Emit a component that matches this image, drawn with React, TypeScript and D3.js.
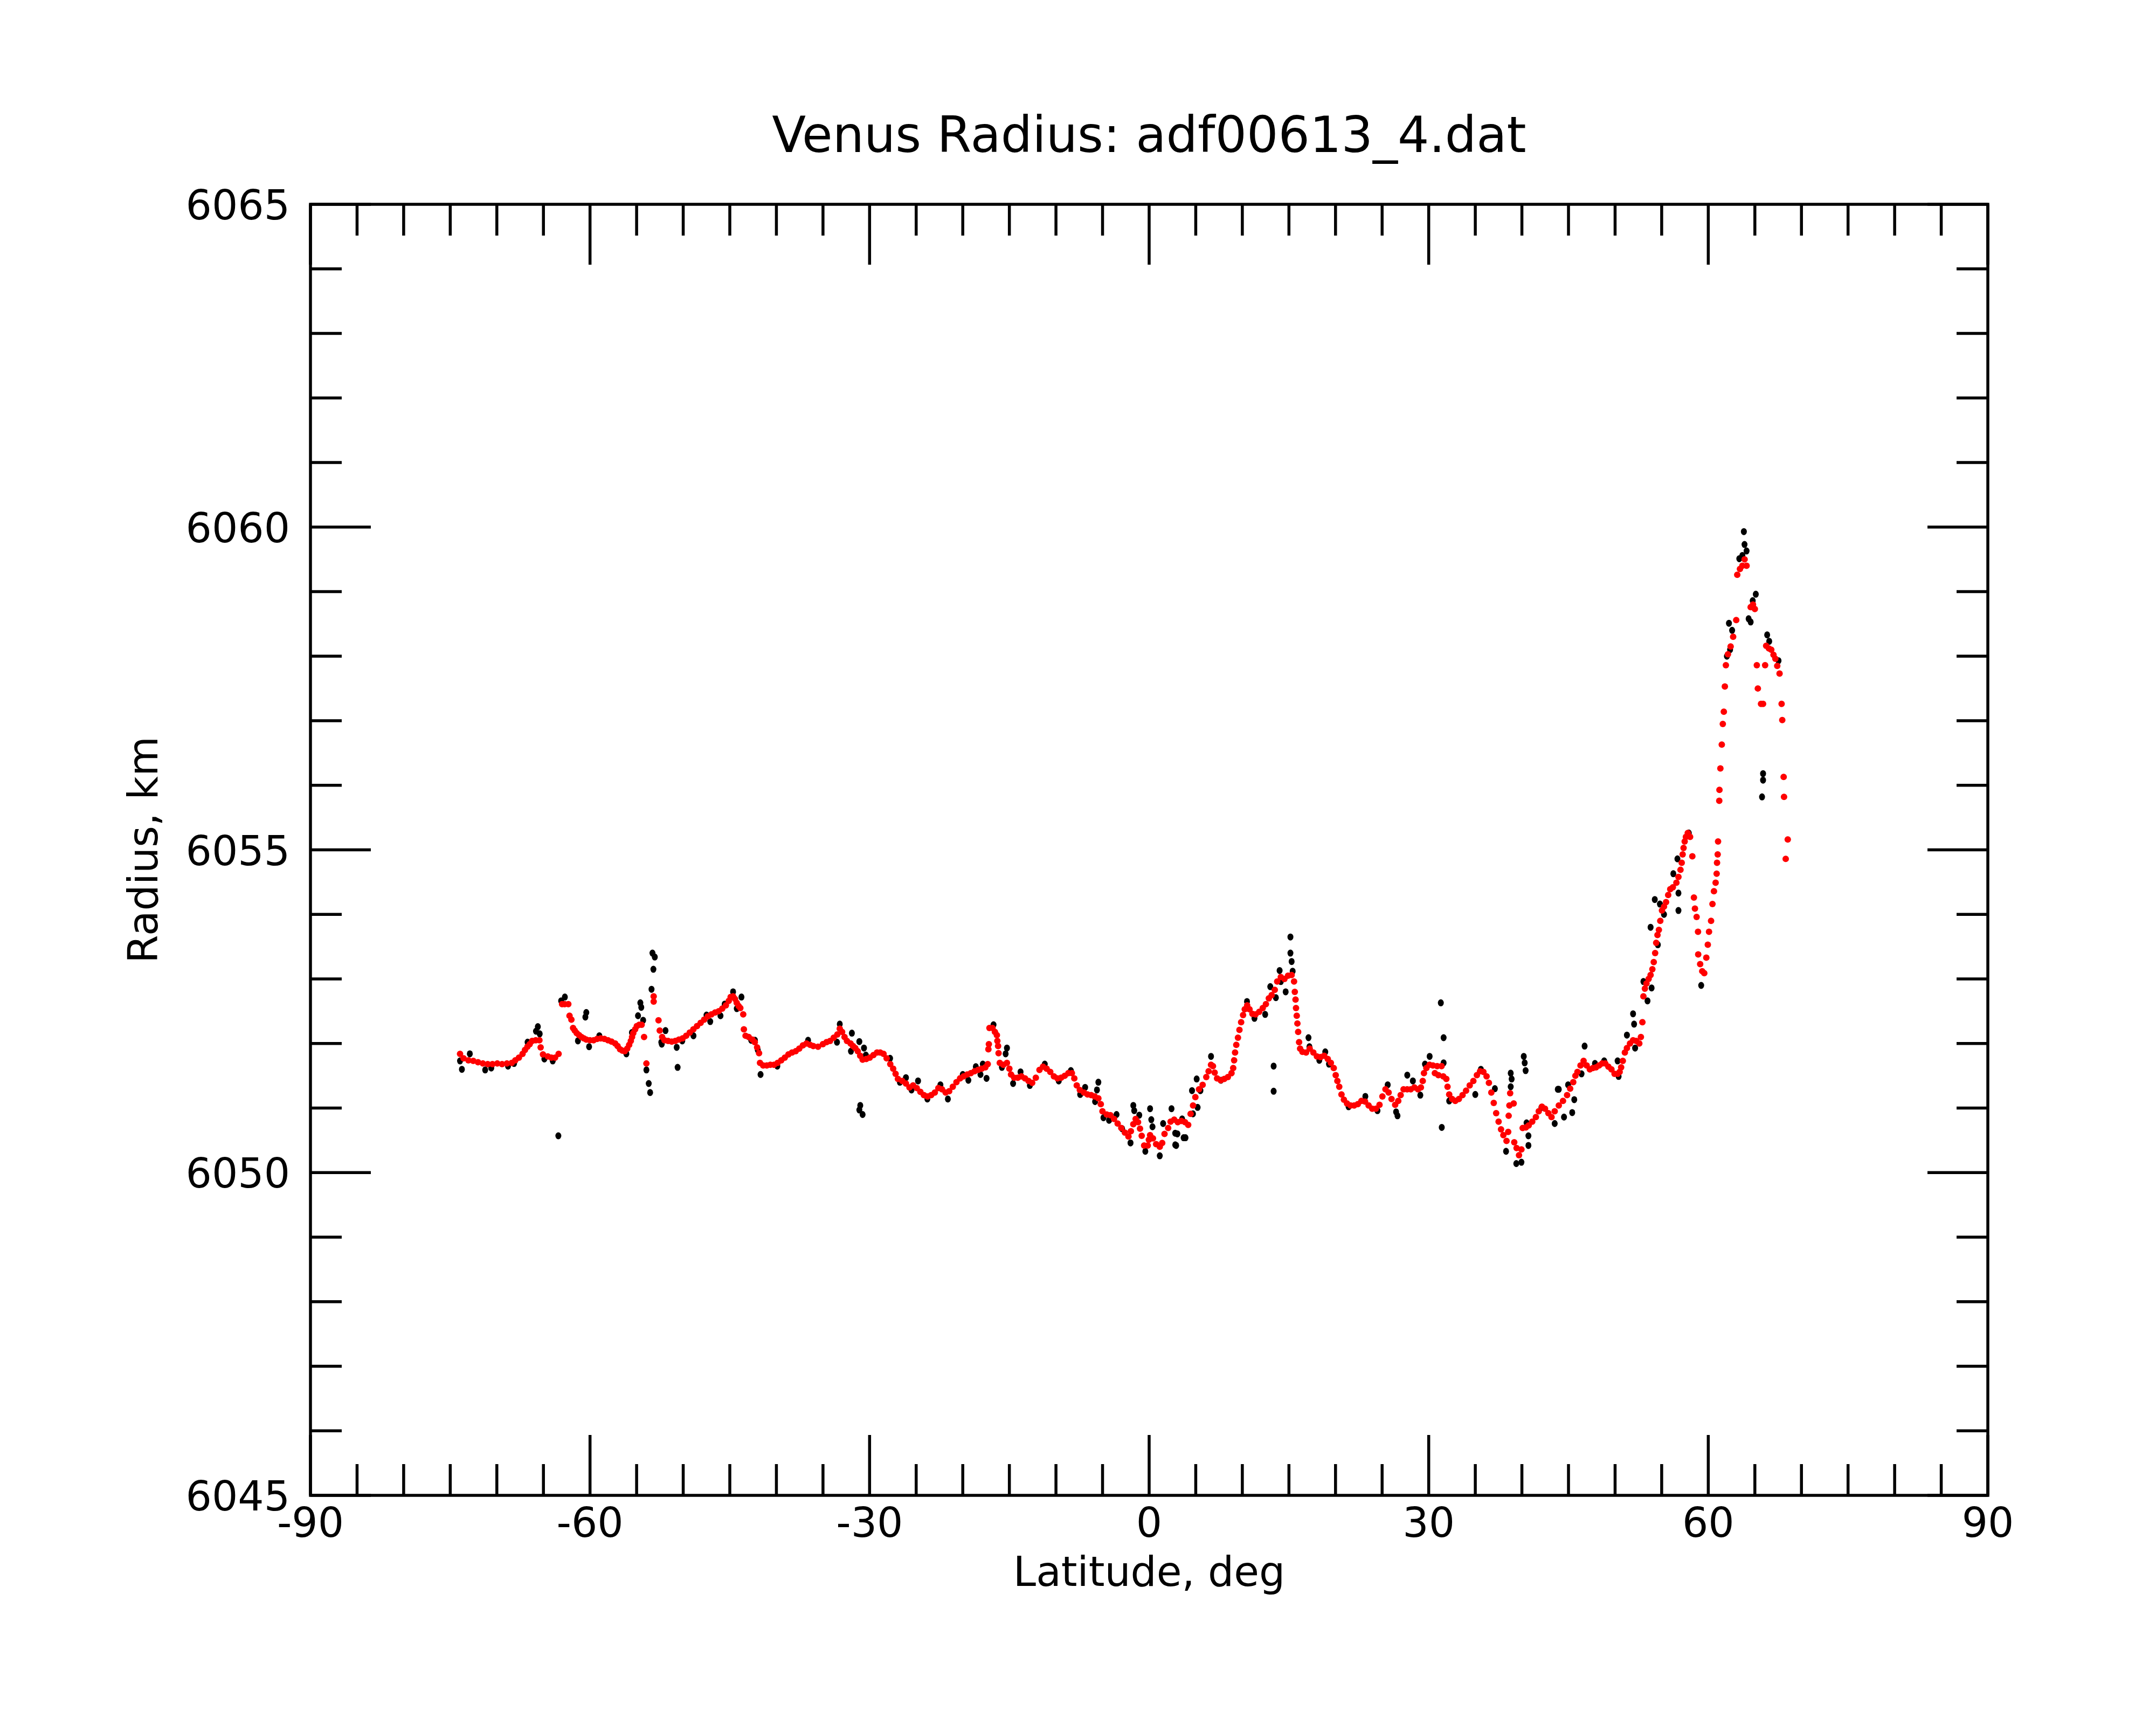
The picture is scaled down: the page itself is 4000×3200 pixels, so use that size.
import React from "react";
import * as d3 from "d3";

const title = "Venus Radius: adf00613_4.dat";
const xLabel = "Latitude, deg";
const yLabel = "Radius, km";
const xDomain: [number, number] = [-90, 90];
const yDomain: [number, number] = [6045, 6065];
const xTickLabels = [-90, -60, -30, 0, 30, 60, 90];
const yTickLabels = [6045, 6050, 6055, 6060, 6065];

// red series (smoothed radius): [latitude, radius]
const redSeries: [number, number][] = [
  [-73.95,6051.84],[-73.57,6051.77],[-73.05,6051.74],[-72.53,6051.73],[-72.02,6051.71],[-71.5,6051.69],
  [-70.98,6051.68],[-70.47,6051.68],[-69.95,6051.69],[-69.44,6051.68],[-68.92,6051.69],[-68.4,6051.7],
  [-68.02,6051.74],[-67.63,6051.78],[-67.24,6051.84],[-66.98,6051.9],[-66.72,6051.95],[-66.47,6051.99],
  [-66.21,6052.04],[-65.82,6052.05],[-65.43,6052.05],[-65.3,6051.94],[-65.05,6051.83],[-64.53,6051.8],
  [-64.14,6051.78],[-63.75,6051.78],[-63.37,6051.84],
  [-63.0,6052.61],[-62.72,6052.61],[-62.33,6052.61],[-62.2,6052.43],[-62.0,6052.37],[-61.82,6052.24],
  [-61.64,6052.2],[-61.43,6052.16],[-61.17,6052.13],[-60.92,6052.1],[-60.66,6052.08],[-60.4,6052.06],
  [-60.01,6052.05],[-59.62,6052.05],[-59.24,6052.07],[-58.85,6052.08],[-58.46,6052.07],[-58.07,6052.05],
  [-57.69,6052.03],[-57.3,6052.0],[-57.04,6051.96],[-56.78,6051.91],[-56.52,6051.89],[-56.27,6051.88],
  [-56.01,6051.92],[-55.8,6051.98],[-55.62,6052.04],[-55.49,6052.1],[-55.36,6052.16],[-55.16,6052.22],
  [-54.98,6052.27],[-54.72,6052.29],[-54.46,6052.29],[-54.2,6052.1],[-53.95,6051.69],[-53.17,6052.73],
  [-53.17,6052.65],[-52.65,6052.36],[-52.52,6052.2],[-52.26,6052.1],[-52.01,6052.05],[-51.62,6052.04],
  [-51.23,6052.03],[-50.85,6052.04],[-50.46,6052.06],[-50.07,6052.08],[-49.68,6052.12],[-49.3,6052.17],
  [-48.91,6052.22],[-48.52,6052.27],[-48.13,6052.32],[-47.75,6052.37],[-47.36,6052.42],[-46.97,6052.45],
  [-46.58,6052.48],[-46.2,6052.5],[-45.81,6052.54],[-45.42,6052.59],[-45.11,6052.66],[-44.91,6052.72],
  [-44.65,6052.73],[-44.44,6052.69],[-44.26,6052.63],[-44.05,6052.58],[-43.87,6052.55],[-43.56,6052.45],
  [-43.49,6052.22],[-43.31,6052.12],[-42.97,6052.1],[-42.58,6052.06],[-42.32,6052.02],[-42.07,6051.94],
  [-41.86,6051.85],[-41.76,6051.7],[-41.42,6051.66],[-41.03,6051.66],[-40.65,6051.67],[-40.26,6051.67],
  [-39.87,6051.7],[-39.48,6051.74],[-39.1,6051.78],[-38.71,6051.83],[-38.32,6051.86],[-37.93,6051.88],
  [-37.55,6051.92],[-37.16,6051.97],[-36.77,6052.0],[-36.38,6051.98],
  [-36.04,6051.96],[-35.53,6051.95],[-35.01,6051.99],[-34.62,6052.02],[-34.24,6052.04],[-33.85,6052.09],
  [-33.46,6052.14],[-33.2,6052.23],[-32.95,6052.18],[-32.69,6052.1],[-32.43,6052.04],[-32.04,6052.0],
  [-31.78,6051.96],[-31.53,6051.93],[-31.27,6051.88],[-31.01,6051.81],[-30.75,6051.75],[-30.36,6051.76],
  [-29.98,6051.78],[-29.59,6051.82],[-29.2,6051.86],[-28.86,6051.86],[-28.5,6051.84],[-28.17,6051.77],
  [-27.78,6051.68],[-27.47,6051.61],[-27.21,6051.53],[-26.96,6051.45],[-26.49,6051.42],[-26.1,6051.38],
  [-25.72,6051.32],[-25.33,6051.35],[-24.94,6051.31],[-24.55,6051.25],[-24.17,6051.2],[-23.78,6051.18],
  [-23.39,6051.2],[-23.0,6051.24],[-22.62,6051.31],[-22.23,6051.29],[-21.84,6051.24],[-21.46,6051.26],
  [-21.07,6051.33],[-20.68,6051.4],[-20.29,6051.46],[-19.91,6051.49],[-19.52,6051.52],[-19.13,6051.54],
  [-18.74,6051.57],[-18.36,6051.59],[-17.97,6051.61],[-17.58,6051.63],[-17.32,6051.68],[-17.25,6051.91],
  [-17.2,6051.99],[-17.14,6052.24],[-16.81,6052.24],[-16.55,6052.18],[-16.34,6052.13],[-16.29,6052.04],
  [-16.21,6051.96],[-16.16,6051.85],[-16.03,6051.7],[-15.65,6051.67],[-15.26,6051.7],[-15.0,6051.61],
  [-14.82,6051.52],[-14.48,6051.47],[-14.1,6051.47],[-13.71,6051.49],[-13.32,6051.46],[-12.94,6051.42],
  [-12.55,6051.39],[-12.16,6051.47],[-11.77,6051.59],[-11.39,6051.64],[-11.0,6051.61],[-10.61,6051.56],
  [-10.22,6051.49],[-9.84,6051.46],[-9.45,6051.47],[-9.06,6051.5],[-8.67,6051.54],[-8.29,6051.54],
  [-8.03,6051.46],[-7.77,6051.35],[-7.44,6051.28],[-7.0,6051.24],[-6.61,6051.21],[-6.22,6051.2],
  [-5.84,6051.18],[-5.45,6051.15],[-5.19,6051.06],[-5.01,6050.95],[-4.55,6050.9],[-4.16,6050.89],
  [-3.77,6050.83],[-3.38,6050.76],[-2.99,6050.69],[-2.61,6050.62],[-2.22,6050.56],[-1.96,6050.64],
  [-1.7,6050.75],[-1.45,6050.83],[-1.19,6050.78],[-0.98,6050.68],[-0.8,6050.57],[-0.54,6050.42],
  [-0.15,6050.42],[-0.03,6050.51],[0.1,6050.58],[0.41,6050.53],[0.75,6050.44],[1.14,6050.4],
  [1.4,6050.46],[1.65,6050.6],[2.04,6050.69],[2.3,6050.79],[2.69,6050.82],[3.07,6050.78],[3.46,6050.8],
  [3.85,6050.78],[4.19,6050.74],[4.45,6050.91],[4.71,6051.04],[4.96,6051.17],[5.35,6051.29],[5.74,6051.36],
  [6.13,6051.48],[6.38,6051.57],[6.64,6051.67],[6.85,6051.65],[7.03,6051.55],[7.29,6051.46],[7.68,6051.43],
  [8.06,6051.45],[8.45,6051.48],[8.84,6051.54],[9.02,6051.62],[9.12,6051.74],[9.22,6051.86],[9.35,6051.98],
  [9.53,6052.09],[9.69,6052.21],[9.87,6052.33],[10.08,6052.44],[10.26,6052.53],[10.52,6052.59],[10.77,6052.53],
  [11.08,6052.46],[11.42,6052.45],[11.81,6052.49],[12.19,6052.55],[12.53,6052.61],[12.84,6052.7],[13.15,6052.75],
  [13.48,6052.83],[13.74,6052.96],[14.13,6053.03],[14.52,6053.0],[14.9,6053.05],[15.29,6053.06],[15.55,6052.96],
  [15.63,6052.8],[15.71,6052.68],[15.76,6052.55],[15.84,6052.43],[15.91,6052.31],[15.99,6052.18],[16.09,6052.02],
  [16.2,6051.92],[16.45,6051.87],[16.84,6051.86],[17.23,6051.92],[17.62,6051.86],[18.0,6051.8],[18.39,6051.79],
  [18.78,6051.81],[19.17,6051.76],[19.5,6051.7],[19.81,6051.62],[20.02,6051.51],[20.2,6051.42],[20.4,6051.33],
  [20.64,6051.21],[20.9,6051.13],[21.23,6051.07],[21.62,6051.04],[22.0,6051.04],[22.39,6051.06],[22.78,6051.11],
  [23.17,6051.1],[23.55,6051.04],[23.94,6050.99],[24.33,6050.99],[24.72,6051.05],[25.03,6051.18],[25.36,6051.29],
  [25.7,6051.24],[26.01,6051.14],[26.4,6051.05],[26.73,6051.11],[26.99,6051.2],[27.3,6051.29],[27.69,6051.29],
  [28.07,6051.29],[28.46,6051.32],[28.85,6051.29],[29.16,6051.32],[29.36,6051.42],[29.49,6051.54],[29.75,6051.62],
  [30.09,6051.67],[30.45,6051.66],[30.91,6051.65],[31.38,6051.65],[30.66,6051.54],[31.04,6051.51],[31.56,6051.49],
  [31.89,6051.45],[32.02,6051.33],[32.2,6051.21],[32.51,6051.14],[32.85,6051.11],[33.24,6051.14],[33.63,6051.2],
  [34.01,6051.27],[34.4,6051.35],[34.79,6051.42],[35.17,6051.51],[35.51,6051.57],[35.87,6051.56],[36.21,6051.49],
  [36.46,6051.39],[36.72,6051.24],[36.98,6051.08],[37.24,6050.92],[37.5,6050.79],[37.76,6050.67],[38.01,6050.58],
  [38.35,6050.49],[38.53,6050.63],[38.58,6050.88],[38.66,6051.04],[38.74,6051.23],[39.12,6051.07],[39.18,6050.47],
  [39.43,6050.38],[39.69,6050.27],[39.95,6050.36],[40.08,6050.69],[40.42,6050.7],[40.73,6050.73],[41.11,6050.79],
  [41.5,6050.86],[41.81,6050.95],[42.15,6051.02],[42.48,6050.99],[42.84,6050.92],[43.18,6050.86],[43.52,6050.95],
  [43.96,6051.04],[44.41,6051.11],[44.85,6051.2],[45.18,6051.3],[45.51,6051.4],[45.74,6051.5],[45.96,6051.56],
  [46.29,6051.66],[46.62,6051.73],[46.95,6051.66],[47.29,6051.6],[47.62,6051.62],[47.95,6051.63],[48.28,6051.66],
  [48.61,6051.69],[48.95,6051.69],[49.28,6051.64],[49.61,6051.6],[49.94,6051.53],[50.27,6051.53],[50.49,6051.56],
  [50.65,6051.63],[50.83,6051.73],[51.05,6051.86],[51.27,6051.93],[51.6,6052.0],[51.93,6052.05],[52.27,6052.04],
  [52.6,6052.0],[52.77,6052.1],[52.93,6052.33],[53.04,6052.73],[53.2,6052.85],[53.37,6052.93],[53.6,6053.0],
  [53.81,6053.06],[54.0,6053.15],[54.15,6053.26],[54.3,6053.4],[54.41,6053.56],[54.55,6053.68],[54.7,6053.76],
  [54.85,6053.9],[55.03,6054.06],[55.25,6054.12],[55.47,6054.19],[55.7,6054.3],[55.92,6054.39],[56.2,6054.42],
  [56.58,6054.49],[56.8,6054.58],[57.02,6054.69],[57.15,6054.8],[57.25,6054.93],[57.35,6055.03],[57.47,6055.13],
  [57.6,6055.2],[57.8,6055.26],[58.05,6055.2],[58.29,6054.9],[58.46,6054.26],[58.57,6054.09],[58.75,6053.96],
  [58.9,6053.73],[58.92,6053.38],[59.13,6053.23],[59.35,6053.12],[59.57,6053.09],[59.79,6053.33],[59.95,6053.53],
  [60.08,6053.73],[60.3,6053.9],[60.45,6054.16],[60.61,6054.36],[60.79,6054.49],[60.9,6054.63],[60.94,6054.8],
  [61.01,6054.93],[61.05,6055.13],[61.18,6055.76],[61.2,6055.93],[61.3,6056.26],[61.45,6056.63],[61.56,6056.95],
  [61.67,6057.14],[61.78,6057.53],[61.89,6057.86],[62.11,6058.03],[62.4,6058.15],[62.67,6058.3],[63.0,6058.56],
  [63.11,6059.26],[63.4,6059.35],[63.66,6059.4],[63.9,6059.5],[64.11,6059.4],[64.55,6058.76],[64.8,6058.8],
  [65.0,6058.73],[65.21,6057.86],[65.32,6057.5],[65.66,6057.26],[65.88,6057.26],[66.1,6057.86],[66.21,6058.16],
  [66.5,6058.12],[66.76,6058.1],[67.0,6058.02],[67.2,6057.96],[67.4,6057.85],[67.65,6057.73],[67.87,6057.26],
  [67.94,6057.01],[68.09,6056.13],[68.13,6055.82],[68.31,6054.86],[68.53,6055.16],
];

// black series (raw radius samples visible around / beyond the red trace)
const blackSeries: [number, number][] = [
  [-73.95,6051.73],[-73.75,6051.6],[-72.9,6051.84],[-71.25,6051.59],[-70.6,6051.62],[-68.8,6051.65],
  [-68.15,6051.69],[-66.7,6052.02],[-65.8,6052.19],[-65.6,6052.26],[-65.4,6052.15],[-64.9,6051.76],
  [-64.0,6051.73],[-63.4,6050.57],[-63.1,6052.66],[-62.7,6052.72],[-61.3,6052.04],[-60.4,6052.48],
  [-60.5,6052.41],[-60.1,6051.95],[-59.0,6052.12],[-56.1,6051.84],[-55.5,6052.17],[-54.85,6052.43],
  [-54.6,6052.63],[-54.5,6052.56],[-54.3,6052.36],[-53.95,6051.59],[-53.7,6051.38],[-53.55,6051.24],
  [-53.4,6052.84],[-53.3,6053.4],[-53.05,6053.34],[-53.2,6053.15],[-52.35,6052.02],[-51.9,6052.2],
  [-52.3,6051.99],[-50.7,6051.94],[-50.6,6051.63],[-50.1,6052.04],[-48.9,6052.12],[-47.5,6052.44],
  [-47.1,6052.34],[-46.0,6052.43],[-45.55,6052.61],[-44.65,6052.8],[-43.75,6052.72],[-44.25,6052.54],
  [-42.7,6052.05],[-42.3,6052.05],[-42.0,6051.9],[-41.7,6051.52],[-39.9,6051.65],[-36.6,6052.05],
  [-33.2,6052.3],[-33.5,6052.02],[-31.9,6052.16],[-32.0,6051.88],[-31.1,6052.03],[-30.6,6051.93],
  [-31.0,6051.04],[-31.1,6050.97],[-30.75,6050.9],[-30.4,6051.82],[-27.8,6051.77],[-26.75,6051.4],
  [-26.1,6051.47],[-24.8,6051.42],[-25.5,6051.28],[-23.8,6051.14],[-22.4,6051.36],[-21.6,6051.14],
  [-20.0,6051.52],[-19.4,6051.43],[-18.6,6051.64],[-18.1,6051.52],[-17.45,6051.46],[-17.85,6051.68],
  [-16.7,6052.29],[-15.26,6051.93],[-15.4,6051.84],[-15.8,6051.63],[-14.6,6051.38],[-13.8,6051.56],
  [-12.8,6051.35],[-11.2,6051.68],[-9.7,6051.42],[-8.4,6051.58],[-7.4,6051.21],[-6.87,6051.32],
  [-5.8,6051.1],[-5.45,6051.4],[-5.6,6051.28],[-4.9,6050.85],[-4.3,6050.81],[-3.5,6050.9],
  [-2.9,6050.68],[-2.0,6050.46],[-1.7,6051.04],[-1.6,6050.96],[-1.06,6050.89],[-0.41,6050.33],
  [0.1,6050.99],[0.23,6050.82],[0.36,6050.71],[1.14,6050.26],[1.5,6050.76],[2.4,6050.99],
  [2.8,6050.61],[2.8,6050.43],[3.7,6050.54],[2.9,6050.42],[3.03,6050.6],[3.9,6050.54],[3.54,6050.83],
  [4.7,6050.91],[4.6,6051.27],[5.1,6051.45],[5.2,6051.01],[5.5,6051.27],[6.64,6051.8],[7.7,6051.43],
  [10.5,6052.65],[11.3,6052.39],[12.45,6052.45],[13.0,6052.88],[13.36,6051.65],[13.36,6051.26],
  [13.6,6052.71],[14.0,6053.13],[14.13,6052.96],[14.65,6052.8],[15.16,6053.65],[15.16,6053.4],
  [15.29,6053.27],[15.4,6053.12],[17.1,6052.09],[17.2,6051.95],[18.26,6051.74],[18.9,6051.87],
  [19.3,6051.68],[21.4,6051.02],[23.2,6051.18],[24.5,6050.96],[25.6,6051.36],[26.5,6050.94],
  [26.65,6050.88],[27.7,6051.51],[28.3,6051.42],[29.1,6051.2],[29.6,6051.68],[30.1,6051.8],
  [31.3,6052.63],[31.6,6052.09],[31.4,6050.7],[31.6,6051.7],[32.2,6051.11],[35.0,6051.21],
  [35.6,6051.6],[37.1,6051.3],[38.3,6050.33],[38.8,6051.54],[38.8,6051.33],[38.9,6051.45],
  [39.4,6050.14],[39.95,6050.16],[40.2,6051.8],[40.3,6051.7],[40.4,6051.58],[40.7,6050.57],
  [40.7,6050.42],[40.5,6050.77],[42.1,6051.01],
  [43.52,6050.76],[43.85,6051.29],[43.96,6051.29],[44.52,6050.86],[44.96,6051.36],[45.4,6050.93],
  [45.62,6051.13],[46.4,6051.53],[46.73,6051.96],[47.84,6051.69],[48.83,6051.73],[50.27,6051.73],
  [50.38,6051.49],[51.27,6052.13],[51.93,6052.46],[52.04,6052.3],[52.15,6051.93],[53.04,6052.96],
  [53.48,6052.66],[53.81,6053.8],[53.92,6052.86],[54.26,6054.23],[54.59,6053.53],[54.81,6054.16],
  [55.25,6054.0],[56.25,6054.63],[56.69,6054.86],[56.8,6054.33],[56.8,6054.06],[57.91,6055.26],
  [59.24,6052.9],[62.0,6058.0],[62.22,6058.51],[62.34,6058.1],[62.56,6058.4],[63.33,6059.51],
  [63.66,6059.56],[63.82,6059.93],[63.89,6059.73],[64.11,6059.63],[64.33,6058.58],[64.55,6058.53],
  [64.77,6058.86],[65.1,6058.96],[65.77,6055.82],[65.88,6056.18],[65.88,6056.08],[66.32,6058.33],
  [66.54,6058.23],[67.54,6057.93],
];

const W = 4000;
const H = 3200;
const plot = { left: 576, right: 3688, top: 379, bottom: 2774 };
const FONT = "'DejaVu Sans', 'Liberation Sans', sans-serif";
const LW = 5.5;

export default function App() {
  const x = d3.scaleLinear().domain(xDomain).range([plot.left, plot.right]);
  const y = d3.scaleLinear().domain(yDomain).range([plot.bottom, plot.top]);

  const xTicks = d3.range(xDomain[0], xDomain[1] + 0.001, 5);
  const yTicks = d3.range(yDomain[0], yDomain[1] + 0.001, 1);
  const isXMajor = (v: number) => Math.abs(v % 30) < 1e-6;
  const isYMajor = (v: number) => Math.abs(v % 5) < 1e-6;
  const MAJ = 112;
  const MIN = 58;

  return (
    <svg
      width={W}
      height={H}
      viewBox={`0 0 ${W} ${H}`}
      style={{ position: "absolute", left: 0, top: 0, background: "#fff" }}
    >
      <rect x={0} y={0} width={W} height={H} fill="#fff" />
      <text x={(plot.left + plot.right) / 2} y={282} fontFamily={FONT} fontSize={92} textAnchor="middle" fill="#000">
        {title}
      </text>

      {/* data */}
      <g>
        {blackSeries.map(([lat, r], i) => (
          <ellipse key={`b${i}`} cx={x(lat)} cy={y(r)} rx={5.5} ry={6.5} fill="#000" />
        ))}
      </g>
      <g>
        {redSeries.map(([lat, r], i) => (
          <circle key={`r${i}`} cx={x(lat)} cy={y(r)} r={6} fill="#ff0000" />
        ))}
      </g>

      {/* ticks */}
      <g stroke="#000" strokeWidth={LW}>
        {xTicks.map((v) => {
          const len = isXMajor(v) ? MAJ : MIN;
          const px = x(v);
          return (
            <g key={`xt${v}`}>
              <line x1={px} x2={px} y1={plot.bottom} y2={plot.bottom - len} />
              <line x1={px} x2={px} y1={plot.top} y2={plot.top + len} />
            </g>
          );
        })}
        {yTicks.map((v) => {
          const len = isYMajor(v) ? MAJ : MIN;
          const py = y(v);
          return (
            <g key={`yt${v}`}>
              <line x1={plot.left} x2={plot.left + len} y1={py} y2={py} />
              <line x1={plot.right} x2={plot.right - len} y1={py} y2={py} />
            </g>
          );
        })}
      </g>
      <rect
        x={plot.left}
        y={plot.top}
        width={plot.right - plot.left}
        height={plot.bottom - plot.top}
        fill="none"
        stroke="#000"
        strokeWidth={LW}
      />

      {/* tick labels */}
      {xTickLabels.map((v) => (
        <text key={`xl${v}`} x={x(v)} y={2851} fontFamily={FONT} fontSize={76} textAnchor="middle" fill="#000">
          {v}
        </text>
      ))}
      {yTickLabels.map((v) => (
        <text key={`yl${v}`} x={538} y={y(v) + 28} fontFamily={FONT} fontSize={76} textAnchor="end" fill="#000">
          {v}
        </text>
      ))}

      <text x={(plot.left + plot.right) / 2} y={2942} fontFamily={FONT} fontSize={76} textAnchor="middle" fill="#000">
        {xLabel}
      </text>
      <text
        transform={`translate(292, ${(plot.top + plot.bottom) / 2}) rotate(-90)`}
        fontFamily={FONT}
        fontSize={76}
        textAnchor="middle"
        fill="#000"
      >
        {yLabel}
      </text>
    </svg>
  );
}
